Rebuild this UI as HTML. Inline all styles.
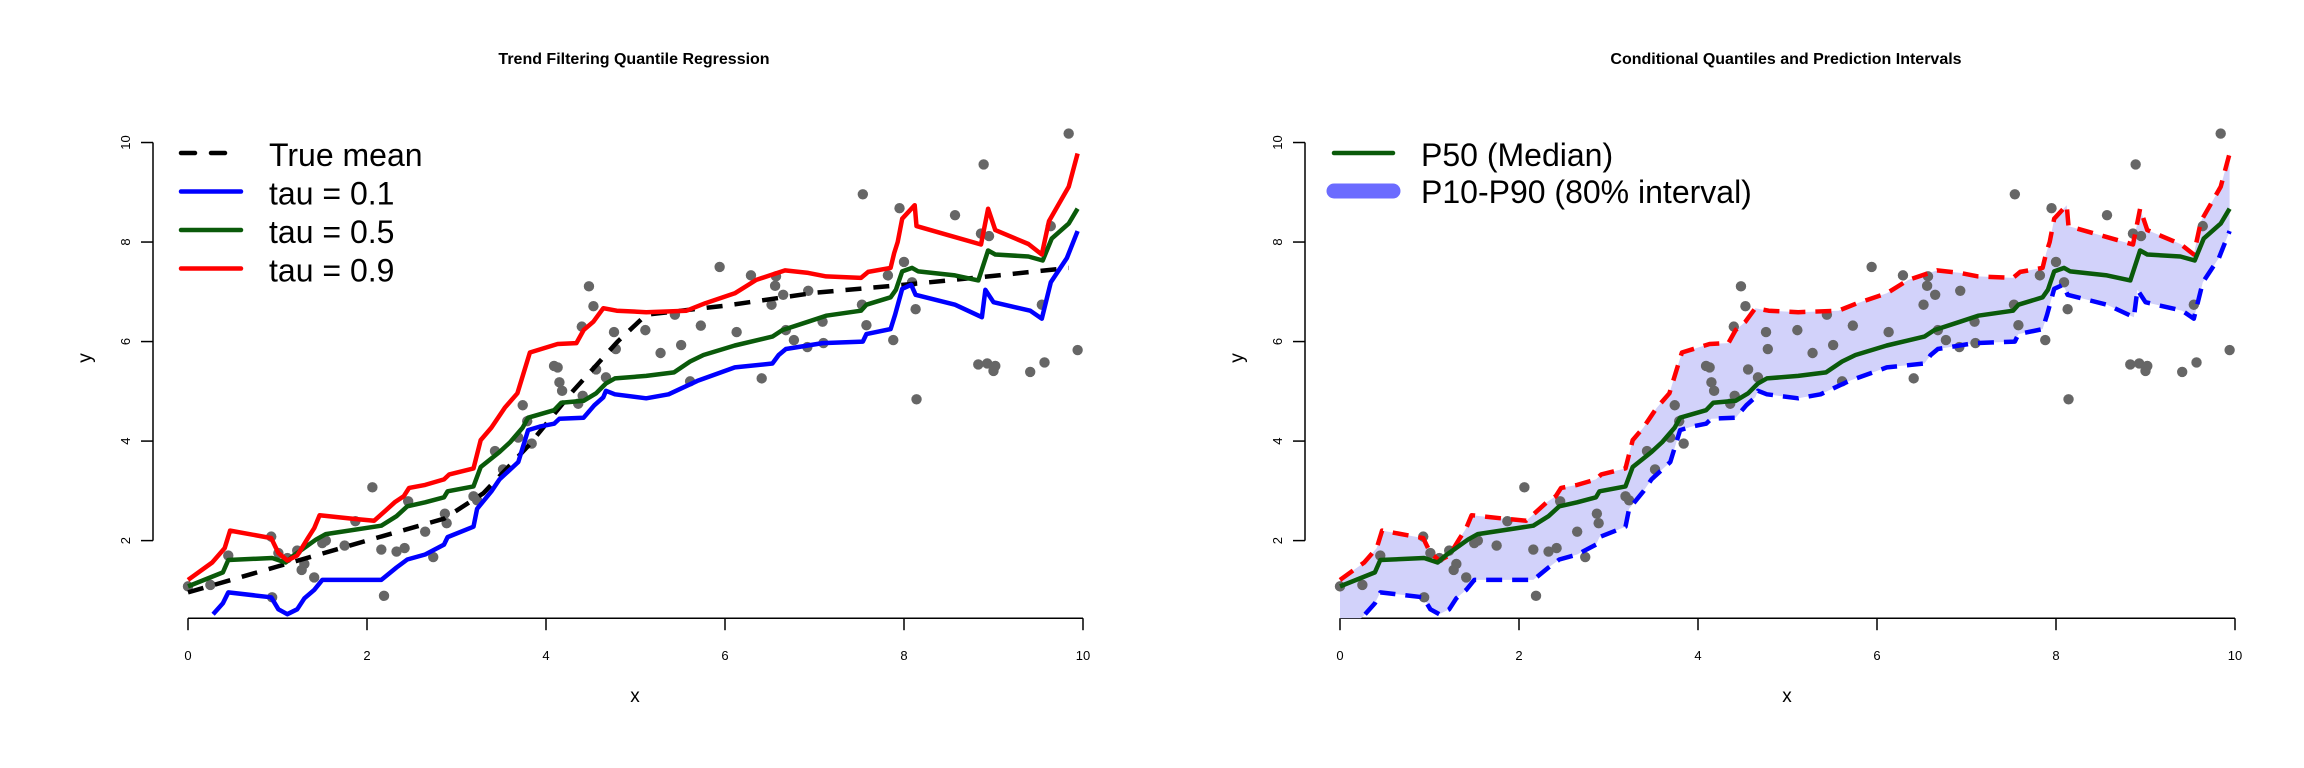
<!DOCTYPE html>
<html><head><meta charset="utf-8"><style>
html,body{margin:0;padding:0;background:#fff}
svg{display:block;font-family:"Liberation Sans",Arial,sans-serif}
</style></head><body>
<svg id="chart" width="2304" height="768" viewBox="0 0 2304 768" xmlns="http://www.w3.org/2000/svg"></svg>
<script>
const pointsX=[0,0.25,0.45,0.93,0.94,1.01,1.11,1.22,1.27,1.30,1.41,1.50,1.54,1.75,1.87,2.06,2.16,2.19,2.33,2.42,2.46,2.65,2.74,2.87,2.89,3.19,3.23,3.43,3.52,3.69,3.74,3.79,3.84,4.09,4.13,4.15,4.18,4.36,4.41,4.40,4.48,4.53,4.56,4.67,4.76,4.78,5.11,5.28,5.44,5.51,5.61,5.73,5.94,6.13,6.29,6.41,6.52,6.56,6.57,6.65,6.68,6.77,6.92,6.93,7.09,7.10,7.54,7.53,7.58,7.82,7.88,7.95,8.00,8.09,8.13,8.14,8.57,8.83,8.86,8.89,8.93,8.95,9.00,9.02,9.41,9.54,9.57,9.64,9.84,9.94];
const pointsY=[1.08,1.11,1.70,2.08,0.86,1.75,1.65,1.80,1.41,1.53,1.26,1.95,2.0,1.90,2.39,3.07,1.82,0.89,1.78,1.85,2.79,2.18,1.67,2.54,2.35,2.89,2.81,3.80,3.43,4.07,4.72,4.40,3.95,5.51,5.48,5.18,5.01,4.75,4.91,6.30,7.11,6.71,5.44,5.28,6.19,5.85,6.23,5.77,6.54,5.93,5.20,6.32,7.50,6.19,7.33,5.26,6.74,7.12,7.31,6.94,6.23,6.03,5.89,7.02,6.40,5.97,8.96,6.74,6.33,7.33,6.03,8.68,7.60,7.19,6.65,4.84,8.54,5.54,8.17,9.56,5.56,8.12,5.41,5.51,5.39,6.74,5.58,8.32,10.18,5.83];
const meanX=[0,1,2,2.86,3.3,3.8,4.3,4.8,5.12,6,7,8,9,9.84];
const meanY=[0.96,1.48,2.0,2.44,2.95,3.9,5.0,6.0,6.54,6.72,6.98,7.14,7.32,7.48];
const q10X=[0.28,0.39,0.45,0.93,1.01,1.11,1.22,1.30,1.41,1.50,2.16,2.33,2.45,2.65,2.86,2.90,3.19,3.23,3.39,3.48,3.69,3.80,3.93,4.09,4.15,4.42,4.54,4.64,4.67,4.77,5.12,5.37,5.69,6.11,6.53,6.60,6.68,7.09,7.54,7.58,7.85,7.90,7.98,8.08,8.13,8.57,8.87,8.91,9.00,9.41,9.54,9.64,9.82,9.94];
const q10Y=[0.52,0.74,0.96,0.86,0.62,0.52,0.62,0.84,1.01,1.21,1.21,1.46,1.62,1.72,1.92,2.07,2.28,2.64,2.99,3.23,3.58,4.22,4.29,4.35,4.45,4.47,4.72,4.88,5.01,4.94,4.86,4.94,5.21,5.48,5.56,5.73,5.85,5.97,6.00,6.15,6.25,6.54,7.06,7.14,6.94,6.74,6.49,7.04,6.79,6.62,6.46,7.19,7.68,8.22];
const q50X=[0,0.39,0.45,0.94,1.09,1.18,1.43,1.54,2.16,2.33,2.45,2.65,2.86,2.90,3.19,3.27,3.48,3.60,3.74,3.80,4.09,4.17,4.42,4.56,4.67,4.77,5.12,5.43,5.61,5.76,6.11,6.53,6.64,6.93,7.13,7.52,7.58,7.85,7.91,7.98,8.09,8.16,8.57,8.83,8.94,9.02,9.39,9.55,9.65,9.84,9.94];
const q50Y=[1.08,1.36,1.61,1.65,1.56,1.70,2.02,2.13,2.30,2.49,2.69,2.77,2.87,2.99,3.09,3.48,3.78,3.98,4.27,4.47,4.62,4.77,4.81,4.96,5.16,5.26,5.31,5.38,5.60,5.73,5.92,6.10,6.23,6.40,6.52,6.62,6.74,6.89,7.04,7.41,7.48,7.41,7.33,7.23,7.83,7.75,7.71,7.63,8.07,8.37,8.67];
const q90X=[0,0.27,0.41,0.47,0.93,1.01,1.11,1.22,1.34,1.41,1.47,1.84,2.08,2.20,2.31,2.41,2.47,2.65,2.86,2.92,3.19,3.27,3.39,3.54,3.68,3.82,4.13,4.34,4.42,4.53,4.64,4.79,5.12,5.57,5.78,6.11,6.35,6.67,6.93,7.13,7.52,7.60,7.85,7.89,7.93,7.98,8.12,8.14,8.49,8.86,8.94,9.02,9.39,9.54,9.62,9.84,9.94];
const q90Y=[1.21,1.56,1.85,2.20,2.05,1.75,1.60,1.70,2.05,2.25,2.51,2.44,2.40,2.59,2.77,2.89,3.06,3.12,3.23,3.33,3.45,4.02,4.27,4.67,4.96,5.78,5.95,5.97,6.23,6.40,6.67,6.62,6.59,6.62,6.77,6.97,7.24,7.43,7.38,7.31,7.28,7.40,7.48,7.78,8.0,8.47,8.74,8.32,8.14,7.95,8.67,8.24,7.96,7.75,8.42,9.11,9.78];
const xTicks=[0,2,4,6,8,10];
const yTicks=[2,4,6,8,10];

const NS="http://www.w3.org/2000/svg";
const svg=document.getElementById('chart');
function mk(tag,attrs,parent){const e=document.createElementNS(NS,tag);for(const k in attrs)e.setAttribute(k,attrs[k]);(parent||svg).appendChild(e);return e;}
const yMin=0.44;
function sy(v){return 540.6-(v-2)*49.76;}
function makeSX(off){return v=>off+188+v*89.5;}
function pathD(xs,ys,sx){return xs.map((x,i)=>(i?'L':'M')+sx(x).toFixed(1)+','+sy(ys[i]).toFixed(1)).join(' ');}

function panel(off,idx,title){
  const sx=makeSX(off);
  const g=mk('g',{});
  
  
  const clipId='clip'+idx;
  const cp=mk('clipPath',{id:clipId},g);
  mk('rect',{x:off+140,y:100,width:960,height:sy(yMin)-100},cp);
  const t=mk('text',{x:off+634,y:64,'text-anchor':'middle','font-size':16,'font-weight':'bold'},g);
  t.textContent=title;
  
  
  const ax=mk('g',{stroke:'#000','stroke-width':1.5,fill:'none'},g);
  
  
  mk('line',{x1:sx(0),x2:sx(10),y1:sy(yMin),y2:sy(yMin)},ax);
  xTicks.forEach(v=>{mk('line',{x1:sx(v),x2:sx(v),y1:sy(yMin),y2:sy(yMin)+12},ax);
    const l=mk('text',{x:sx(v),y:660,'text-anchor':'middle','font-size':13,fill:'#000',stroke:'none'},g);l.textContent=v;
    
    });
  const ay=mk('g',{stroke:'#000','stroke-width':1.5,fill:'none'},g);
  
  
  mk('line',{x1:off+153,x2:off+153,y1:sy(10),y2:sy(2)},ay);
  yTicks.forEach(v=>{mk('line',{x1:off+153,x2:off+141,y1:sy(v),y2:sy(v)},ay);
    const l=mk('text',{x:off+130,y:sy(v),'text-anchor':'middle','font-size':13,fill:'#000',stroke:'none',transform:'rotate(-90 '+(off+130)+' '+sy(v)+')'},g);l.textContent=v;
    
    });
  const xl=mk('text',{x:off+635,y:702,'text-anchor':'middle','font-size':19},g);xl.textContent='x';
  
  
  const yl=mk('text',{x:off+91,y:358,'text-anchor':'middle','font-size':19,transform:'rotate(-90 '+(off+91)+' 358)'},g);yl.textContent='y';
  
  
  const plot=mk('g',{'clip-path':'url(#'+clipId+')'},g);
  return {sx,plot,g};
}
function line(parent,xs,ys,sx,color,dash,name){
  const p=mk('path',{d:pathD(xs,ys,sx),fill:'none',stroke:color,'stroke-width':4.5,'stroke-linejoin':'round','stroke-dasharray':dash||'none'},parent);
  
  
}
function points(parent,sx){
  const g=mk('g',{fill:'#666'},parent);
  
  
  pointsX.forEach((x,i)=>{const c=mk('circle',{cx:sx(x),cy:sy(pointsY[i]),r:5.2},g);
    
    });
}
const L=panel(0,1,'Trend Filtering Quantile Regression');
points(L.plot,L.sx);
line(L.plot,meanX,meanY,L.sx,'#000','16 12','true-mean-line');
line(L.plot,q10X,q10Y,L.sx,'#0000ff',null,'tau-0.1-line');
line(L.plot,q50X,q50Y,L.sx,'#0a5a0a',null,'tau-0.5-line');
line(L.plot,q90X,q90Y,L.sx,'#ff0000',null,'tau-0.9-line');
const leg=[['True mean','#000','14 16'],['tau = 0.1','#0000ff',null],['tau = 0.5','#0a5a0a',null],['tau = 0.9','#ff0000',null]];
leg.forEach((e,i)=>{const y=153+i*38.5;
  const ln=mk('line',{x1:181,x2:241,y1:y,y2:y,stroke:e[1],'stroke-width':4.5,'stroke-linecap':'round','stroke-dasharray':e[2]||'none'});
  
  
  const t=mk('text',{x:269,y:y+13,'font-size':32});t.textContent=e[0];
  
  });
const R=panel(1152,2,'Conditional Quantiles and Prediction Intervals');
const bandD=pathD(q90X,q90Y,R.sx)+' '+q10X.slice().reverse().map((x,i)=>'L'+R.sx(x).toFixed(1)+','+sy(q10Y[q10Y.length-1-i]).toFixed(1)).join(' ')+' L'+R.sx(0).toFixed(1)+','+sy(0).toFixed(1)+' Z';
const band=mk('path',{d:bandD,fill:'#d2d2fa',stroke:'none'},R.plot);


points(R.plot,R.sx);
line(R.plot,q90X,q90Y,R.sx,'#ff0000','16 10','p90-line');
line(R.plot,q10X,q10Y,R.sx,'#0000ff','16 10','p10-line');
line(R.plot,q50X,q50Y,R.sx,'#0a5a0a',null,'p50-line');
const l1=mk('line',{x1:1334,x2:1393,y1:153,y2:153,stroke:'#0a5a0a','stroke-width':4.5,'stroke-linecap':'round'});


const l2=mk('line',{x1:1334,x2:1393,y1:191,y2:191,stroke:'#6b6bff','stroke-width':15,'stroke-linecap':'round'});


const t1=mk('text',{x:1421,y:166,'font-size':32});t1.textContent='P50 (Median)';


const t2=mk('text',{x:1421,y:203,'font-size':32});t2.textContent='P10-P90 (80% interval)';


</script>
</body></html>
